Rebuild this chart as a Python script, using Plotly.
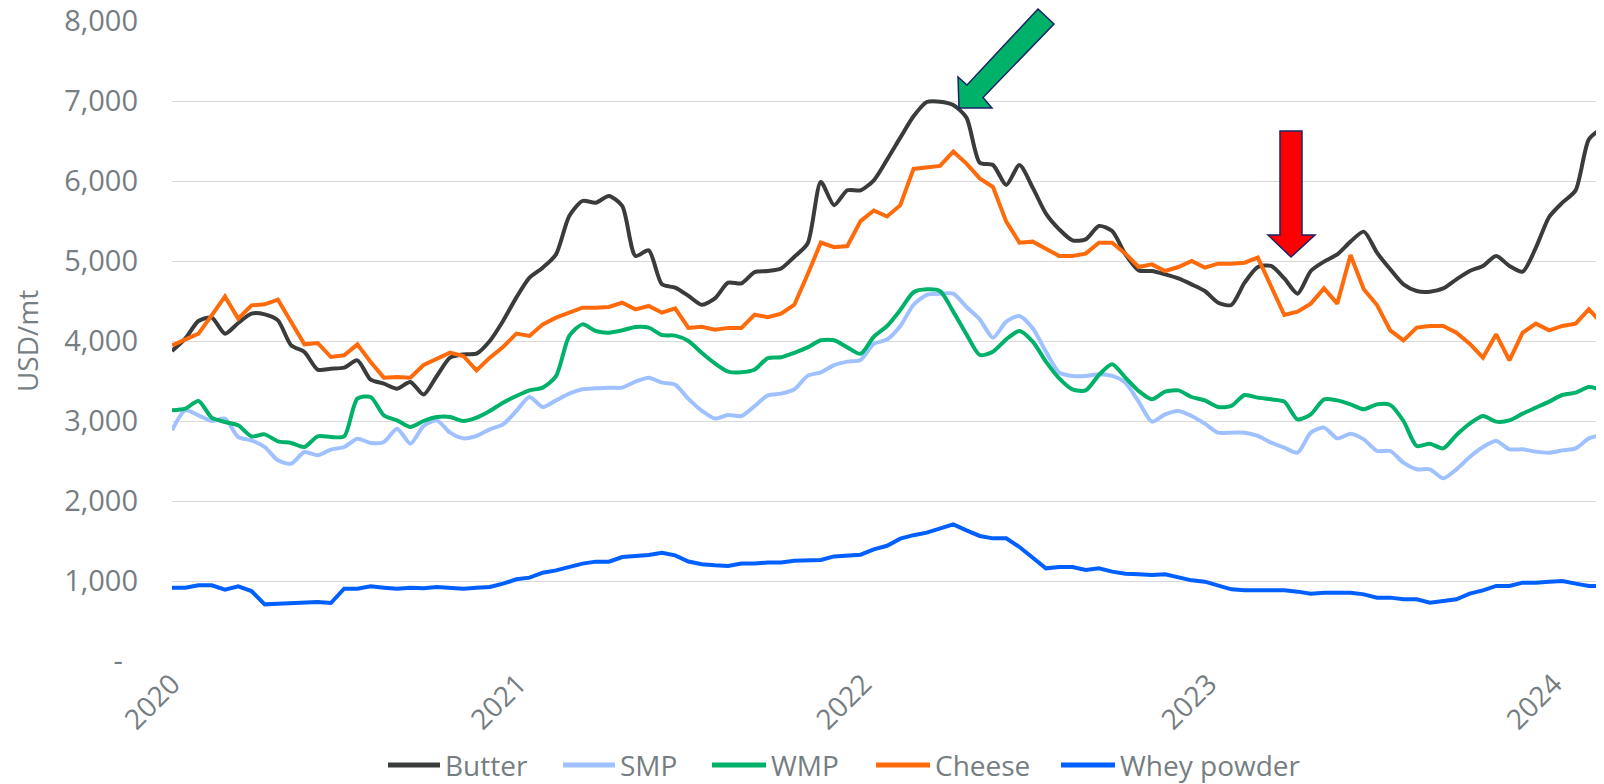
import pandas as pd
import plotly.graph_objects as go

# Biweekly observations starting 2020-01-01
dates = pd.date_range(start="2020-01-01", periods=109, freq="14D")

butter = [3875, 4029, 4250, 4292, 4092, 4225, 4342, 4333, 4258, 3946,
          3863, 3642, 3654, 3667, 3758, 3517, 3467, 3404, 3488, 3330,
          3563, 3792, 3833, 3842, 4000, 4250, 4542, 4792, 4917, 5083,
          5563, 5750, 5729, 5813, 5688, 5063, 5133, 4708, 4667, 4564,
          4453, 4533, 4729, 4720, 4862, 4875, 4907, 5053, 5218, 5987,
          5698, 5884, 5884, 6009, 6267, 6542, 6809, 6987, 6992, 6950,
          6792, 6229, 6200, 5950, 6200, 5917, 5592, 5396, 5258, 5271,
          5438, 5375, 5083, 4883, 4875, 4833, 4783, 4708, 4625, 4479,
          4450, 4729, 4925, 4938, 4783, 4592, 4875, 4992, 5083, 5242,
          5367, 5104, 4896, 4708, 4625, 4617, 4658, 4771, 4875, 4938,
          5063, 4938, 4867, 5167, 5550, 5729, 5883, 6521, 6658]

smp = [2883, 3133, 3071, 3000, 3029, 2800, 2758, 2675, 2508, 2467,
       2613, 2571, 2642, 2675, 2779, 2725, 2738, 2904, 2717, 2938,
       3008, 2854, 2783, 2813, 2896, 2958, 3125, 3300, 3175, 3258,
       3342, 3396, 3408, 3417, 3417, 3492, 3542, 3479, 3453, 3276,
       3129, 3031, 3076, 3062, 3187, 3320, 3342, 3396, 3564, 3609,
       3698, 3742, 3764, 3964, 4018, 4187, 4453, 4578, 4592, 4592,
       4425, 4271, 4042, 4242, 4313, 4158, 3867, 3604, 3563, 3563,
       3583, 3563, 3479, 3242, 2992, 3083, 3125, 3063, 2967, 2854,
       2854, 2854, 2813, 2729, 2667, 2604, 2854, 2917, 2783, 2842,
       2771, 2625, 2625, 2479, 2396, 2396, 2283, 2396, 2550, 2675,
       2750, 2646, 2646, 2617, 2604, 2633, 2658, 2783, 2825]

wmp = [3133, 3154, 3250, 3042, 2988, 2946, 2808, 2833, 2746, 2725,
       2675, 2808, 2800, 2808, 3279, 3300, 3071, 3008, 2925, 3000,
       3050, 3050, 3000, 3042, 3125, 3229, 3313, 3383, 3417, 3560,
       4063, 4208, 4125, 4104, 4133, 4175, 4167, 4075, 4067, 4000,
       3853, 3720, 3618, 3609, 3644, 3787, 3796, 3853, 3920, 4009,
       4009, 3920, 3840, 4053, 4187, 4387, 4609, 4646, 4625, 4367,
       4083, 3825, 3867, 4021, 4125, 3992, 3742, 3533, 3396, 3383,
       3575, 3708, 3542, 3375, 3271, 3367, 3383, 3300, 3258, 3175,
       3188, 3325, 3292, 3271, 3242, 3021, 3083, 3271, 3258, 3208,
       3146, 3208, 3200, 3000, 2688, 2717, 2658, 2825, 2967, 3063,
       2992, 3008, 3092, 3167, 3242, 3325, 3354, 3425, 3383]

cheese = [3946, 4017, 4092, 4321, 4558, 4279, 4446, 4458, 4517, 4238,
          3958, 3975, 3800, 3821, 3958, 3738, 3542, 3550, 3542, 3700,
          3771, 3854, 3813, 3633, 3792, 3925, 4092, 4063, 4208, 4292,
          4354, 4417, 4417, 4425, 4479, 4396, 4438, 4354, 4409, 4164,
          4178, 4142, 4164, 4164, 4329, 4298, 4342, 4453, 4831, 5231,
          5173, 5187, 5498, 5631, 5556, 5698, 6151, 6175, 6188, 6367,
          6217, 6033, 5925, 5492, 5229, 5242, 5146, 5063, 5063, 5092,
          5229, 5229, 5092, 4925, 4958, 4875, 4925, 5000, 4917, 4967,
          4967, 4979, 5042, 4688, 4325, 4367, 4467, 4658, 4467, 5075,
          4646, 4450, 4133, 4008, 4167, 4188, 4188, 4104, 3967, 3792,
          4083, 3758, 4104, 4217, 4133, 4188, 4217, 4396, 4217]

whey = [917, 917, 946, 946, 892, 933, 875, 708, 717, 725,
        738, 738, 725, 904, 904, 933, 917, 904, 917, 908,
        925, 917, 904, 917, 925, 967, 1021, 1042, 1104, 1133,
        1175, 1217, 1242, 1242, 1300, 1313, 1325, 1354, 1320, 1244,
        1209, 1196, 1187, 1218, 1218, 1231, 1231, 1253, 1262, 1262,
        1307, 1320, 1329, 1396, 1440, 1529, 1573, 1604, 1658, 1708,
        1633, 1563, 1533, 1533, 1425, 1292, 1158, 1175, 1175, 1138,
        1158, 1117, 1092, 1083, 1075, 1083, 1040, 1008, 992, 950,
        896, 883, 883, 875, 883, 867, 842, 854, 854, 854,
        833, 792, 792, 771, 771, 729, 750, 771, 842, 883,
        938, 938, 979, 979, 992, 1000, 967, 938, 938]

y_tickvals = [0, 1000, 2000, 3000, 4000, 5000, 6000, 7000, 8000]
y_ticktext = ["-\u00a0\u00a0", "1,000", "2,000", "3,000", "4,000",
              "5,000", "6,000", "7,000", "8,000"]
x_tickvals = ["2020-01-01", "2021-01-01", "2022-01-01", "2023-01-01", "2024-01-01"]
x_ticktext = ["2020", "2021", "2022", "2023", "2024"]

series_names = ["Butter", "SMP", "WMP", "Cheese", "Whey powder"]
series_values = [butter, smp, wmp, cheese, whey]
series_colors = ["#3A3C3C", "#9FC1FF", "#00B16A", "#FF6A0A", "#0060FF"]
series_shapes = ["spline", "spline", "spline", "linear", "linear"]

TXT = "#767E82"
FONT = "Open Sans"

# page body has an 8px margin; figure sized so the plot area sits where the reference has it
OFF = 8
W, H = 1604 - OFF, 784 - OFF
L, R, T, B = 172 - OFF, 0, 21 - OFF, 123
pw, ph = W - L - R, H - T - B


def px(x, y):
    """screen pixel -> paper coords"""
    return (x - OFF - L) / pw, (OFF + T + ph - y) / ph


def path(points):
    pts = [px(x, y) for x, y in points]
    return "M " + " L ".join(f"{a:.5f},{b:.5f}" for a, b in pts) + " Z"


fig = go.Figure()
for name, vals, col, shape in zip(series_names, series_values, series_colors, series_shapes):
    line = dict(color=col, width=4, shape=shape)
    if shape == "spline":
        line["smoothing"] = 0.7
    fig.add_trace(go.Scatter(x=dates, y=vals, mode="lines", name=name, line=line,
                             showlegend=False))

# annotation arrows
green_arrow = [(959, 108), (958, 77), (967, 85), (1038, 9), (1054, 24), (983, 97.5), (992, 108)]
red_arrow = [(1280, 131), (1302, 131), (1302, 235), (1315, 235), (1291, 257), (1268, 235), (1280, 235)]
fig.add_shape(type="path", xref="paper", yref="paper", path=path(green_arrow),
              fillcolor="#00B16A", line=dict(color="#1A2366", width=1.5), layer="above")
fig.add_shape(type="path", xref="paper", yref="paper", path=path(red_arrow),
              fillcolor="#FF0000", line=dict(color="#1A2366", width=1.5), layer="above")

# legend drawn by hand (long line keys as in the reference)
legend_line_x = [(388, 440), (563, 615), (712, 766), (876, 930), (1061, 1115)]
legend_y = 765
for name, col, (x0, x1) in zip(series_names, series_colors, legend_line_x):
    a0, b0 = px(x0, legend_y)
    a1, _ = px(x1, legend_y)
    fig.add_shape(type="line", xref="paper", yref="paper", x0=a0, x1=a1, y0=b0, y1=b0,
                  line=dict(color=col, width=5))
    tx, ty = px(x1 + 4, legend_y)
    fig.add_annotation(xref="paper", yref="paper", x=tx, y=ty, xanchor="left", yanchor="middle",
                       text=name, showarrow=False, borderpad=0,
                       font=dict(family=FONT, size=28, color=TXT))

fig.update_layout(
    width=W, height=H,
    margin=dict(l=L, r=R, t=T, b=B, autoexpand=False),
    paper_bgcolor="white", plot_bgcolor="white",
    font=dict(family=FONT, size=28, color=TXT),
    showlegend=False,
    xaxis=dict(type="date", range=["2020-01-01", "2024-02-23"],
               tickvals=x_tickvals, ticktext=x_ticktext, tickangle=-45,
               showgrid=False, zeroline=False, showline=False, ticks="",
               tickfont=dict(family=FONT, size=28, color=TXT), automargin=False),
    yaxis=dict(range=[0, 8000], tickvals=y_tickvals, ticktext=y_ticktext,
               showgrid=True, gridcolor="#D9D9D9", gridwidth=1.3, zeroline=False,
               showline=False, ticks="", ticklabelstandoff=33, ticklabeloverflow="allow",
               tickfont=dict(family=FONT, size=29, color=TXT), automargin=False,
               title=dict(text="USD/mt", font=dict(family=FONT, size=28, color=TXT), standoff=20)),
)

fig.write_html("out.html")
